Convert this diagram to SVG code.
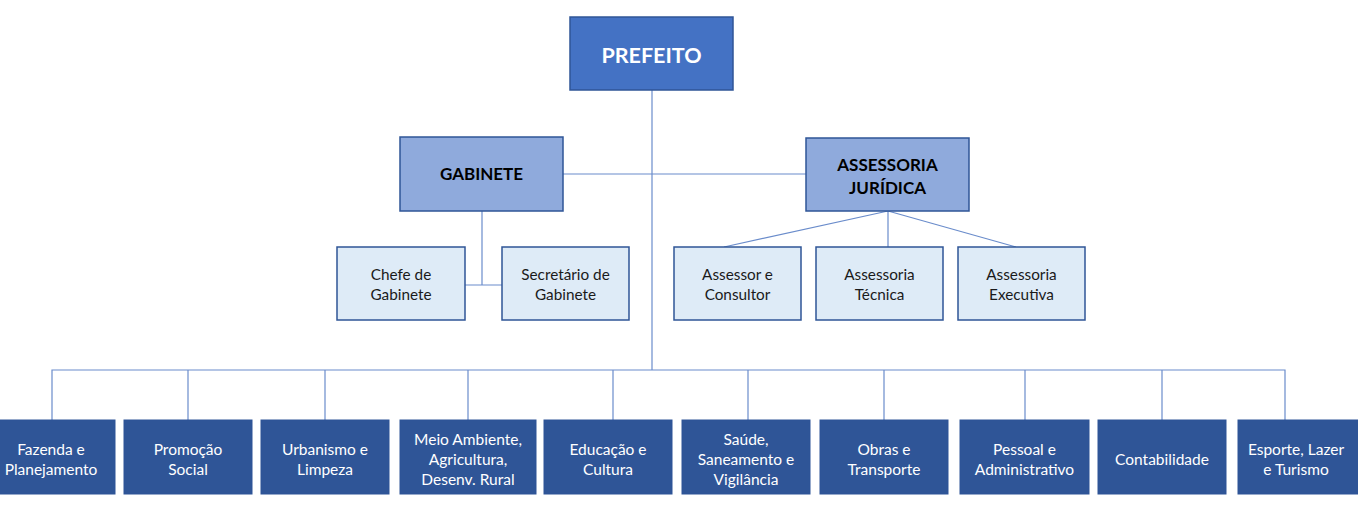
<svg xmlns="http://www.w3.org/2000/svg" width="1358" height="509" viewBox="0 0 1358 509">
<style>
.top{fill:#4472C4;stroke:#2F5597;stroke-width:1.5}
.mid{fill:#8FAADC;stroke:#2F5597;stroke-width:1.5}
.sub{fill:#DEEBF7;stroke:#2F5597;stroke-width:1.5}
.bot{fill:#2F5597;stroke:#2F5597;stroke-width:1}
.ln{stroke:#6A8CCB;stroke-width:1.2;fill:none}
text{font-family:Lato,"Open Sans","Liberation Sans",sans-serif;text-anchor:middle}
.t1{font-size:21.5px;font-weight:bold;fill:#FFFFFF}
.t2{font-size:17px;font-weight:bold;fill:#000000}
.t3{font-size:15.3px;fill:#1A1A1A}
.t4{font-size:15.5px;fill:#FFFFFF}
</style>
<rect width="1358" height="509" fill="#FFFFFF"/>
<g id="connectors">
<line class="ln" x1="652" y1="90" x2="652" y2="370"/>
<line class="ln" x1="563" y1="174" x2="806" y2="174"/>
<line class="ln" x1="482" y1="211" x2="482" y2="285"/>
<line class="ln" x1="465" y1="285" x2="502" y2="285"/>
<line class="ln" x1="888" y1="211" x2="724" y2="247"/>
<line class="ln" x1="888" y1="211" x2="888" y2="247"/>
<line class="ln" x1="888" y1="211" x2="1016" y2="247"/>
<polyline class="ln" points="52,420 52,370 1285,370 1285,420"/>
<line class="ln" x1="188" y1="370" x2="188" y2="420"/>
<line class="ln" x1="325" y1="370" x2="325" y2="420"/>
<line class="ln" x1="468" y1="370" x2="468" y2="420"/>
<line class="ln" x1="613" y1="370" x2="613" y2="420"/>
<line class="ln" x1="748" y1="370" x2="748" y2="420"/>
<line class="ln" x1="884" y1="370" x2="884" y2="420"/>
<line class="ln" x1="1025" y1="370" x2="1025" y2="420"/>
<line class="ln" x1="1162" y1="370" x2="1162" y2="420"/>
</g>
<g id="prefeito"><rect class="top" x="570" y="17" width="163" height="73"/><text class="t1" x="651.5" y="63">PREFEITO</text></g>
<g id="gabinete"><rect class="mid" x="400" y="137" width="163" height="74"/><text class="t2" x="481.5" y="180">GABINETE</text></g>
<g id="assessoria-juridica"><rect class="mid" x="806" y="138" width="163" height="73"/><text class="t2" x="887.5" y="171">ASSESSORIA</text><text class="t2" x="887.5" y="194">JURÍDICA</text></g>
<g id="chefe"><rect class="sub" x="337" y="247" width="128" height="73"/><text class="t3" x="401" y="280">Chefe de</text><text class="t3" x="401" y="300">Gabinete</text></g>
<g id="secretario"><rect class="sub" x="502" y="247" width="127" height="73"/><text class="t3" x="565.5" y="280">Secretário de</text><text class="t3" x="565.5" y="300">Gabinete</text></g>
<g id="assessor"><rect class="sub" x="674" y="247" width="127" height="73"/><text class="t3" x="737.5" y="280">Assessor e</text><text class="t3" x="737.5" y="300">Consultor</text></g>
<g id="tecnica"><rect class="sub" x="816" y="247" width="127" height="73"/><text class="t3" x="879.5" y="280">Assessoria</text><text class="t3" x="879.5" y="300">Técnica</text></g>
<g id="executiva"><rect class="sub" x="958" y="247" width="127" height="73"/><text class="t3" x="1021.5" y="280">Assessoria</text><text class="t3" x="1021.5" y="300">Executiva</text></g>
<g id="fazenda"><rect class="bot" x="-2" y="420" width="117" height="74"/><text class="t4" x="51" y="455">Fazenda e</text><text class="t4" x="51" y="475">Planejamento</text></g>
<g id="promocao"><rect class="bot" x="124" y="420" width="128" height="74"/><text class="t4" x="188" y="455">Promoção</text><text class="t4" x="188" y="475">Social</text></g>
<g id="urbanismo"><rect class="bot" x="261" y="420" width="128" height="74"/><text class="t4" x="325" y="455">Urbanismo e</text><text class="t4" x="325" y="475">Limpeza</text></g>
<g id="meio-ambiente"><rect class="bot" x="400" y="420" width="136" height="74"/><text class="t4" x="468" y="445">Meio Ambiente,</text><text class="t4" x="468" y="465">Agricultura,</text><text class="t4" x="468" y="485">Desenv. Rural</text></g>
<g id="educacao"><rect class="bot" x="544" y="420" width="128" height="74"/><text class="t4" x="608" y="455">Educação e</text><text class="t4" x="608" y="475">Cultura</text></g>
<g id="saude"><rect class="bot" x="682" y="420" width="128" height="74"/><text class="t4" x="746" y="445">Saúde,</text><text class="t4" x="746" y="465">Saneamento e</text><text class="t4" x="746" y="485">Vigilância</text></g>
<g id="obras"><rect class="bot" x="820" y="420" width="128" height="74"/><text class="t4" x="884" y="455">Obras e</text><text class="t4" x="884" y="475">Transporte</text></g>
<g id="pessoal"><rect class="bot" x="960" y="420" width="129" height="74"/><text class="t4" x="1024.5" y="455">Pessoal e</text><text class="t4" x="1024.5" y="475">Administrativo</text></g>
<g id="contabilidade"><rect class="bot" x="1098" y="420" width="128" height="74"/><text class="t4" x="1162" y="465">Contabilidade</text></g>
<g id="esporte"><rect class="bot" x="1238" y="420" width="122" height="74"/><text class="t4" x="1296" y="455">Esporte, Lazer</text><text class="t4" x="1296" y="475">e Turismo</text></g>
</svg>
